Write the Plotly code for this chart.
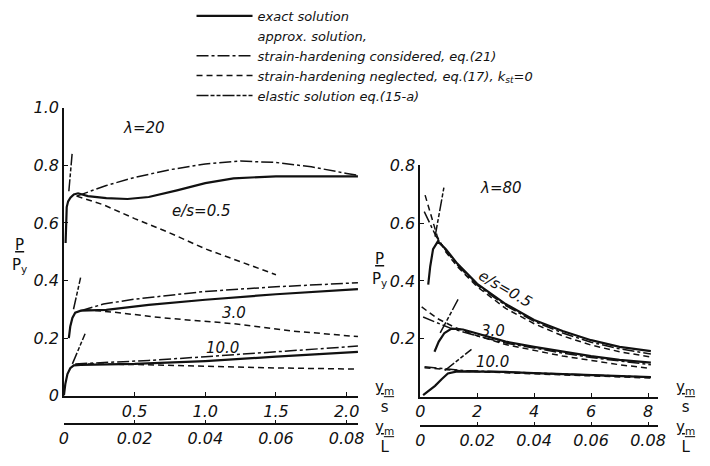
import plotly.graph_objects as go

# ---------------- data : left panel (lambda = 20), x = ym/s ----------------
L05_exact_x = [0.012, 0.014, 0.02, 0.03, 0.046, 0.07, 0.10, 0.17, 0.30, 0.45, 0.60, 0.80, 1.00, 1.20, 1.50, 1.80, 2.08]
L05_exact_y = [0.53, 0.61, 0.655, 0.675, 0.688, 0.699, 0.703, 0.693, 0.686, 0.683, 0.69, 0.713, 0.738, 0.755, 0.762, 0.762, 0.762]
L05_cons_x = [0.09, 0.30, 0.50, 0.75, 1.00, 1.25, 1.50, 1.75, 2.00, 2.08]
L05_cons_y = [0.693, 0.73, 0.758, 0.785, 0.805, 0.815, 0.81, 0.795, 0.772, 0.765]
L05_negl_x = [0.09, 0.28, 0.50, 0.74, 1.00, 1.25, 1.50]
L05_negl_y = [0.693, 0.663, 0.615, 0.567, 0.51, 0.465, 0.42]
L05_elas_x = [0.035, 0.058]
L05_elas_y = [0.71, 0.84]

L30_exact_x = [0.035, 0.045, 0.06, 0.08, 0.12, 0.30, 0.60, 1.00, 1.50, 2.08]
L30_exact_y = [0.20, 0.24, 0.27, 0.288, 0.295, 0.298, 0.315, 0.333, 0.352, 0.37]
L30_cons_x = [0.12, 0.28, 0.50, 1.00, 1.50, 2.08]
L30_cons_y = [0.295, 0.318, 0.335, 0.362, 0.378, 0.392]
L30_negl_x = [0.15, 0.35, 0.70, 1.20, 1.60, 2.08]
L30_negl_y = [0.298, 0.29, 0.27, 0.25, 0.225, 0.205]
L30_elas_x = [0.068, 0.118]
L30_elas_y = [0.30, 0.41]

L100_exact_x = [0.0, 0.01, 0.025, 0.045, 0.07, 0.12, 0.50, 1.00, 1.50, 2.08]
L100_exact_y = [0.0, 0.04, 0.075, 0.095, 0.105, 0.107, 0.11, 0.12, 0.135, 0.152]
L100_cons_x = [0.08, 0.30, 0.60, 1.00, 1.50, 2.08]
L100_cons_y = [0.11, 0.115, 0.122, 0.135, 0.152, 0.172]
L100_negl_x = [0.10, 0.50, 1.00, 1.50, 2.08]
L100_negl_y = [0.11, 0.108, 0.102, 0.096, 0.092]
L100_elas_x = [0.06, 0.15]
L100_elas_y = [0.11, 0.215]

# ---------------- data : right panel (lambda = 80), x = ym/s ----------------
R05_exact_x = [0.28, 0.35, 0.45, 0.62, 0.90, 1.30, 2.0, 3.0, 4.0, 5.0, 6.0, 7.0, 8.1]
R05_exact_y = [0.387, 0.45, 0.51, 0.537, 0.51, 0.46, 0.39, 0.32, 0.265, 0.227, 0.195, 0.172, 0.157]
R05_cons_x = [0.14, 0.55, 0.90, 1.30, 2.0, 3.0, 4.0, 5.0, 6.0, 7.0, 8.1]
R05_cons_y = [0.64, 0.555, 0.505, 0.455, 0.385, 0.315, 0.26, 0.22, 0.188, 0.165, 0.147]
R05_negl_x = [0.17, 0.60, 0.90, 1.30, 2.0, 3.0, 4.0, 5.0, 6.0, 7.0, 8.1]
R05_negl_y = [0.697, 0.553, 0.50, 0.45, 0.38, 0.305, 0.252, 0.21, 0.178, 0.155, 0.137]
R05_elas_x = [0.52, 0.83]
R05_elas_y = [0.553, 0.723]

R30_exact_x = [0.50, 0.65, 0.85, 1.10, 1.50, 2.5, 3.0, 4.0, 5.0, 6.0, 7.0, 8.1]
R30_exact_y = [0.155, 0.19, 0.22, 0.235, 0.232, 0.205, 0.19, 0.172, 0.155, 0.14, 0.127, 0.117]
R30_cons_x = [0.10, 0.60, 1.10, 2.0, 3.0, 4.0, 5.0, 6.0, 7.0, 8.1]
R30_cons_y = [0.275, 0.255, 0.235, 0.21, 0.185, 0.168, 0.15, 0.135, 0.122, 0.11]
R30_negl_x = [0.05, 0.60, 1.20, 2.0, 3.0, 4.0, 5.0, 6.0, 7.0, 8.1]
R30_negl_y = [0.31, 0.27, 0.24, 0.21, 0.18, 0.16, 0.14, 0.125, 0.11, 0.097]
R30_elas_x = [0.70, 1.35]
R30_elas_y = [0.22, 0.34]

R100_exact_x = [0.10, 0.30, 0.52, 0.75, 0.97, 1.30, 2.2, 3.0, 4.0, 5.0, 6.0, 7.0, 8.1]
R100_exact_y = [0.005, 0.02, 0.037, 0.06, 0.08, 0.087, 0.087, 0.085, 0.081, 0.077, 0.073, 0.07, 0.067]
R100_cons_x = [0.15, 0.90, 1.50, 3.0, 5.0, 8.1]
R100_cons_y = [0.103, 0.095, 0.09, 0.085, 0.077, 0.067]
R100_negl_x = [0.15, 0.90, 1.50, 3.0, 5.0, 8.1]
R100_negl_y = [0.10, 0.093, 0.088, 0.082, 0.074, 0.064]
R100_elas_x = [0.86, 1.80]
R100_elas_y = [0.09, 0.163]

# axis tick labels
L_ys_ticks = [0.5, 1.0, 1.5, 2.0]
L_ys_text = ["0.5", "1.0", "1.5", "2.0"]
L_yl_ticks = [0.0, 0.02, 0.04, 0.06, 0.08]
L_yl_text = ["0", "0.02", "0.04", "0.06", "0.08"]
L_p_ticks = [0.0, 0.2, 0.4, 0.6, 0.8, 1.0]
L_p_text = ["0", "0.2", "0.4", "0.6", "0.8", "1.0"]
R_ys_ticks = [0, 2, 4, 6, 8]
R_ys_text = ["0", "2", "4", "6", "8"]
R_yl_ticks = [0.0, 0.02, 0.04, 0.06, 0.08]
R_yl_text = ["0", "0.02", "0.04", "0.06", "0.08"]
R_p_ticks = [0.2, 0.4, 0.6, 0.8]
R_p_text = ["0.2", "0.4", "0.6", "0.8"]

# ---------------- styles ----------------
BLACK = "#111111"
FONT = "DejaVu Sans"
styles = {
    "exact": dict(color=BLACK, width=2.2, dash="solid"),
    "cons": dict(color=BLACK, width=1.5, dash="12px,3px,3px,3px"),
    "negl": dict(color=BLACK, width=1.5, dash="6px,4px"),
    "elas": dict(color=BLACK, width=1.5, dash="12px,2px,4px,2px,4px,2px"),
}
names = {
    "exact": "exact solution",
    "cons": "strain-hardening considered, eq.(21)",
    "negl": "strain-hardening neglected, eq.(17), k<sub>st</sub>=0",
    "elas": "elastic solution eq.(15-a)",
}
ranks = {"exact": 1, "cons": 3, "negl": 4, "elas": 5}

fig = go.Figure()
shown = set()

def add(x, y, kind, xa, ya):
    fig.add_trace(go.Scatter(
        x=x, y=y, mode="lines", line=styles[kind], xaxis=xa, yaxis=ya,
        name=names[kind], legendgroup=kind, legendrank=ranks[kind],
        showlegend=kind not in shown, hoverinfo="skip"))
    shown.add(kind)

add(L05_exact_x, L05_exact_y, "exact", "x", "y")
add(L30_exact_x, L30_exact_y, "exact", "x", "y")
add(L100_exact_x, L100_exact_y, "exact", "x", "y")
add(L05_cons_x, L05_cons_y, "cons", "x", "y")
add(L30_cons_x, L30_cons_y, "cons", "x", "y")
add(L100_cons_x, L100_cons_y, "cons", "x", "y")
add(L05_negl_x, L05_negl_y, "negl", "x", "y")
add(L30_negl_x, L30_negl_y, "negl", "x", "y")
add(L100_negl_x, L100_negl_y, "negl", "x", "y")
add(L05_elas_x, L05_elas_y, "elas", "x", "y")
add(L30_elas_x, L30_elas_y, "elas", "x", "y")
add(L100_elas_x, L100_elas_y, "elas", "x", "y")

add(R05_exact_x, R05_exact_y, "exact", "x2", "y2")
add(R30_exact_x, R30_exact_y, "exact", "x2", "y2")
add(R100_exact_x, R100_exact_y, "exact", "x2", "y2")
add(R05_cons_x, R05_cons_y, "cons", "x2", "y2")
add(R30_cons_x, R30_cons_y, "cons", "x2", "y2")
add(R100_cons_x, R100_cons_y, "cons", "x2", "y2")
add(R05_negl_x, R05_negl_y, "negl", "x2", "y2")
add(R30_negl_x, R30_negl_y, "negl", "x2", "y2")
add(R100_negl_x, R100_negl_y, "negl", "x2", "y2")
add(R05_elas_x, R05_elas_y, "elas", "x2", "y2")
add(R30_elas_x, R30_elas_y, "elas", "x2", "y2")
add(R100_elas_x, R100_elas_y, "elas", "x2", "y2")

# legend header entry (no line sample)
fig.add_trace(go.Scatter(x=[None], y=[None], mode="lines", line=dict(width=0, color="white"),
                         name="approx. solution,", legendrank=2, hoverinfo="skip"))
# empty traces so the secondary ym/L axes are drawn
fig.add_trace(go.Scatter(x=[None], y=[None], xaxis="x3", yaxis="y", showlegend=False, mode="lines"))
fig.add_trace(go.Scatter(x=[None], y=[None], xaxis="x4", yaxis="y2", showlegend=False, mode="lines"))

W, H = 710, 466
def fx(px):
    return px / W
def fy(py):
    return 1 - py / H

L_XMAX = 300 / 144.0
R_XMAX = (665 - 423) / 29.0
tickfont = dict(family=FONT, size=16, color=BLACK, style="italic")
axcommon = dict(showline=True, linecolor=BLACK, linewidth=1.5, showgrid=False, zeroline=False,
                ticks="inside", ticklen=4, tickcolor=BLACK, tickfont=tickfont, tickmode="array")

fig.update_layout(
    width=W, height=H, autosize=False,
    margin=dict(l=0, r=0, t=0, b=0),
    paper_bgcolor="white", plot_bgcolor="white",
    font=dict(family=FONT, color=BLACK),
    xaxis=dict(domain=[fx(60), fx(360)], range=[0, L_XMAX], anchor="y",
               tickvals=L_ys_ticks, ticktext=L_ys_text, **axcommon),
    yaxis=dict(domain=[fy(403), fy(103)], range=[0, 1.0], anchor="x",
               tickvals=L_p_ticks, ticktext=L_p_text, **axcommon),
    xaxis3=dict(overlaying="x", anchor="free", position=fy(433), side="bottom",
                range=[0, L_XMAX * 0.04], tickvals=L_yl_ticks, ticktext=L_yl_text, **axcommon),
    xaxis2=dict(domain=[fx(423), fx(665)], range=[0, R_XMAX], anchor="y2",
                tickvals=R_ys_ticks, ticktext=R_ys_text, **axcommon),
    yaxis2=dict(domain=[fy(404), fy(163)], range=[0, 0.8], anchor="x2",
                tickvals=R_p_ticks, ticktext=R_p_text, **axcommon),
    xaxis4=dict(overlaying="x2", anchor="free", position=fy(435), side="bottom",
                range=[0, R_XMAX * 0.01], tickvals=R_yl_ticks, ticktext=R_yl_text, **axcommon),
    legend=dict(x=fx(190), y=1.018, xanchor="left", yanchor="top", bgcolor="rgba(0,0,0,0)",
                font=dict(family=FONT, size=13, color=BLACK, style="italic"),
                itemwidth=56, tracegroupgap=0, traceorder="normal"),
    showlegend=True,
)

ann_font = dict(family=FONT, size=15, color=BLACK, style="italic")
annotations = [
    dict(text="λ=20", x=0.57, y=0.93, xref="x", yref="y"),
    dict(text="e/s=0.5", x=0.97, y=0.64, xref="x", yref="y"),
    dict(text="3.0", x=1.2, y=0.287, xref="x", yref="y"),
    dict(text="10.0", x=1.125, y=0.167, xref="x", yref="y"),
    dict(text="λ=80", x=2.83, y=0.723, xref="x2", yref="y2"),
    dict(text="e/s=0.5", x=3.0, y=0.372, xref="x2", yref="y2", textangle=30),
    dict(text="3.0", x=2.55, y=0.227, xref="x2", yref="y2"),
    dict(text="10.0", x=2.55, y=0.12, xref="x2", yref="y2"),
]
for a in annotations:
    fig.add_annotation(showarrow=False, font=ann_font, xanchor="center", yanchor="middle", **a)

lab_font = dict(family=FONT, size=15, color=BLACK)
for (px, py, txt) in [
    (15, 257, "<u>P</u><br>P<sub>y</sub>"),
    (381, 272, "<u>P</u><br>P<sub>y</sub>"),
    (387, 404, "<u>y<sub>m</sub></u><br>s"),
    (387, 446, "<u>y<sub>m</sub></u><br>L"),
    (693, 404, "<u>y<sub>m</sub></u><br>s"),
    (693, 446, "<u>y<sub>m</sub></u><br>L"),
]:
    fig.add_annotation(x=fx(px), y=fy(py), xref="paper", yref="paper", text=txt,
                       showarrow=False, font=lab_font, align="center",
                       xanchor="center", yanchor="middle")

fig.write_html("out.html")
